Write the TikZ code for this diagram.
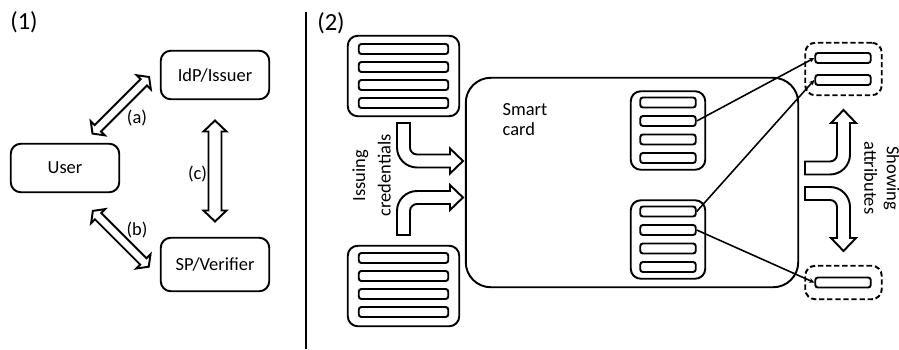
\documentclass[tikz,border=0pt]{standalone}
\usepackage{fontspec}
\setmainfont{Carlito}
\usetikzlibrary{arrows.meta}
% hollow block arrows
\newcommand{\twoway}[5]{\draw[hollow,#1] (-#2,0) -- ({-#2+#5},-#4) -- ({-#2+#5},-#3) -- ({#2-#5},-#3) -- ({#2-#5},-#4) -- (#2,0)
    -- ({#2-#5},#4) -- ({#2-#5},#3) -- ({-#2+#5},#3) -- ({-#2+#5},#4) -- cycle;}
\newcommand{\bentarrow}[3]{\draw[hollow,#1] (-6.5,-#2) -- (-6.5,-13.5) arc[start angle=180,end angle=90,radius=20] -- (#3,6.5)
    -- (#3,12.5) -- ({#3+13},0) -- (#3,-12.5) -- (#3,-6.5) -- (13.5,-6.5) arc[start angle=90,end angle=180,radius=7] -- (6.5,-#2) -- cycle;}

\begin{document}
\begin{tikzpicture}[x=0.02cm, y=-0.02cm, line width=1.1pt,
                   txt/.style={font=\fontsize{10.5}{11.3}\selectfont, inner sep=0pt},
                   tag/.style={font=\fontsize{14}{16}\selectfont, inner sep=0pt},
                   role/.style={draw, rounded corners=0.2cm, minimum width=2.17cm, minimum height=0.97cm, txt},
                   cred/.style={draw, rounded corners=0.2cm, minimum width=2.23cm, minimum height=1.61cm},
                   held/.style={draw, rounded corners=0.2cm, minimum width=1.49cm, minimum height=1.57cm},
                   shown/.style={draw, dash pattern=on 3pt off 1.6pt, rounded corners=0.2cm, minimum width=1.53cm},
                   wideslot/.style={draw, rounded corners=1.5pt, inner sep=0pt, minimum width=1.79cm, minimum height=0.2cm},
                   slot/.style={wideslot, minimum width=1.11cm},
                   hollow/.style={draw, fill=white},
                   link/.style={line width=0.9pt, -{Stealth[length=3pt, width=2.8pt]}}]
    \useasboundingbox (0,0) rectangle (899,349);
    % (1)
    \node[tag]  (one)  at (24,22)  {(1)};
    \node[role] (user) at (65,168) {User};
    \node[role] (idp)  at (215,75) {IdP/Issuer};
    \node[role, minimum height=1.07cm] (sp) at (215,264.5) {SP/Verifier};
    \twoway{shift={(120.8,105.3)}, rotate=45}{40}{4.5}{10}{7.5}
    \twoway{shift={(120.8,238.8)}, rotate=-45}{39.5}{4.5}{10}{7.5}
    \twoway{shift={(215,171)}, rotate=90}{50.5}{6.5}{11.5}{11}
    \node[txt] (la) at (137,118)   {(a)};
    \node[txt] (lb) at (137,230)   {(b)};
    \node[txt] (lc) at (197.5,174) {(c)};
    \draw[line width=1.2pt] (306,12) -- (306,349);
    % (2)
    \node[tag] (two) at (331,23) {(2)};
    \node[draw, rounded corners=0.5cm, minimum width=6.65cm, minimum height=4.19cm] (card) at (632,182.5) {};
    \node[txt, align=left] (cardtxt) at (525,120) {Smart\\card};
    \node[cred] (issA) at (403.5,76)  {};
    \node[cred] (issB) at (403.5,286) {};
    \foreach \i/\y in {1/49,2/67,3/85,4/103}
        \node[wideslot] (issA-\i) at (403.5,\y) {};
    \foreach \i/\y in {1/258,2/276,3/294,4/312}
        \node[wideslot] (issB-\i) at (403.5,\y) {};
    \node[held] (cardA) at (668,130.5) {};
    \node[held] (cardB) at (668,239.5) {};
    \foreach \i/\y in {1/102.5,2/121,3/139.5,4/158}
        \node[slot] (cardA-\i) at (668,\y) {};
    \foreach \i/\y in {1/211.5,2/230,3/248.5,4/267}
        \node[slot] (cardB-\i) at (668,\y) {};
    \node[shown, minimum height=1.05cm] (showA) at (843.5,69)    {};
    \node[shown, minimum height=0.67cm] (showB) at (843.5,282.5) {};
    \node[slot] (showA-1) at (843,58)    {};
    \node[slot] (showA-2) at (843,80)    {};
    \node[slot] (showB-1) at (843,282.5) {};
    \bentarrow{shift={(403.5,161)}}{38}{46.5}
    \bentarrow{shift={(403.5,197.5)}, yscale=-1}{37.5}{46.5}
    \bentarrow{shift={(843.5,168)}, rotate=90}{38.5}{45}
    \bentarrow{shift={(843.5,193.5)}, rotate=90, xscale=-1}{38.5}{44.5}
    \node[txt, font=\fontsize{10.5}{14.5}\selectfont, align=center, rotate=90]  (issue) at (371.5,175.5) {Issuing\\credentials};
    \node[txt, font=\fontsize{10.5}{12.8}\selectfont, align=center, rotate=-90] (show)  at (882,178) {Showing\\attributes};
    \draw[link] (cardA-2.east) -- (showA-1.west);
    \draw[link] (cardB-1.east) -- (showA-2.west);
    \draw[link] (cardB-2.east) -- (showB-1.west);
\end{tikzpicture}
\end{document}
